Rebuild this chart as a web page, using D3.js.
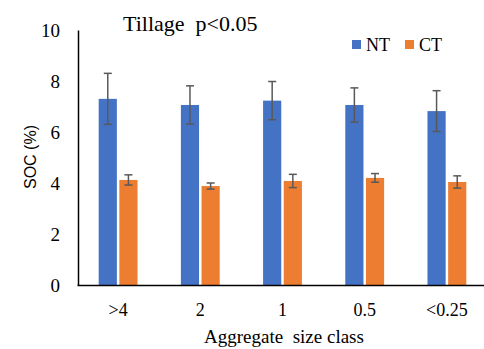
<!DOCTYPE html>
<html>
<head>
<meta charset="utf-8">
<script src="https://cdn.jsdelivr.net/npm/d3@7"></script>
<style>
  body { margin: 0; background: #fff; }
  text { font-family: "Liberation Serif", "Times New Roman", serif; fill: #000; }
</style>
</head>
<body>
<svg></svg>
<script>
var sizeClasses = [">4", "2", "1", "0.5", "<0.25"];
var seriesNames = ["NT", "CT"];
var ntValues = [7.3, 7.06, 7.23, 7.06, 6.82];
var ntErrors = [1.0, 0.75, 0.75, 0.67, 0.8];
var ctValues = [4.12, 3.88, 4.08, 4.2, 4.04];
var ctErrors = [0.2, 0.12, 0.26, 0.17, 0.24];
var yTicks = [0, 2, 4, 6, 8, 10];

var width = 484, height = 349;
var colors = {"NT": "#4472C4", "CT": "#ED7D31"};
var serif = "'Liberation Serif', 'Times New Roman', serif";

var svg = d3.select("svg").attr("width", width).attr("height", height);

var x = d3.scaleBand()
  .domain(sizeClasses)
  .range([77, 488]);

var y = d3.scaleLinear()
  .domain([0, 10])
  .range([285, 30]);

var inner = d3.scaleBand()
  .domain(seriesNames)
  .range([0, x.bandwidth()])
  .paddingInner(0.12)
  .paddingOuter(1.05);

var rows = [];
sizeClasses.forEach(function(c, i) {
  rows.push({cls: c, series: "NT", value: ntValues[i], err: ntErrors[i]});
  rows.push({cls: c, series: "CT", value: ctValues[i], err: ctErrors[i]});
});

// bars
svg.append("g").selectAll("rect")
  .data(rows)
  .join("rect")
    .attr("x", d => x(d.cls) + inner(d.series))
    .attr("y", d => y(d.value))
    .attr("width", inner.bandwidth())
    .attr("height", d => y(0) - y(d.value))
    .attr("fill", d => colors[d.series]);

// error bars
var eb = svg.append("g")
  .attr("stroke", "#595959")
  .attr("stroke-width", 1.5);
rows.forEach(function(d) {
  var cx = x(d.cls) + inner(d.series) + inner.bandwidth() / 2;
  var top = y(d.value + d.err), bot = y(d.value - d.err);
  eb.append("line").attr("x1", cx).attr("x2", cx).attr("y1", top).attr("y2", bot);
  eb.append("line").attr("x1", cx - 4).attr("x2", cx + 4).attr("y1", top).attr("y2", top);
  eb.append("line").attr("x1", cx - 4).attr("x2", cx + 4).attr("y1", bot).attr("y2", bot);
});

// axes
var yAxis = d3.axisLeft(y).tickValues(yTicks).tickSize(0).tickPadding(18);
svg.append("g")
    .attr("transform", "translate(78,0)")
  .call(yAxis)
  .call(g => g.select(".domain").attr("stroke", "#000").attr("stroke-width", 1.5))
  .call(g => g.selectAll("text").style("font-size", "19px").style("font-family", serif));

var xAxis = d3.axisBottom(x).tickSize(0).tickPadding(18);
svg.append("g")
    .attr("transform", "translate(0,285)")
  .call(xAxis)
  .call(g => g.select(".domain").attr("stroke", "#000").attr("stroke-width", 1.5))
  .call(g => g.selectAll("text").style("font-size", "18px").style("font-family", serif));

// titles
svg.append("text")
    .attr("x", 123)
    .attr("y", 31)
    .style("font-size", "22px")
    .style("font-family", serif)
    .style("white-space", "pre")
    .text("Tillage  p<0.05");

svg.append("text")
    .attr("transform", "translate(36,157) rotate(-90)")
    .attr("text-anchor", "middle")
    .style("font-size", "16px")
    .style("font-family", "'Liberation Sans', Arial, sans-serif")
    .text("SOC (%)");

svg.append("text")
    .attr("x", 284)
    .attr("y", 343)
    .attr("text-anchor", "middle")
    .style("font-size", "19px")
    .style("font-family", serif)
    .style("white-space", "pre")
    .text("Aggregate  size class");

// legend
var legend = svg.append("g");
[["NT", 352], ["CT", 405]].forEach(function(p) {
  legend.append("rect")
    .attr("x", p[1]).attr("y", 40).attr("width", 9).attr("height", 9)
    .attr("fill", colors[p[0]]);
  legend.append("text")
    .attr("x", p[1] + 14).attr("y", 51)
    .style("font-size", "18px")
    .style("font-family", serif)
    .text(p[0]);
});
</script>
</body>
</html>
